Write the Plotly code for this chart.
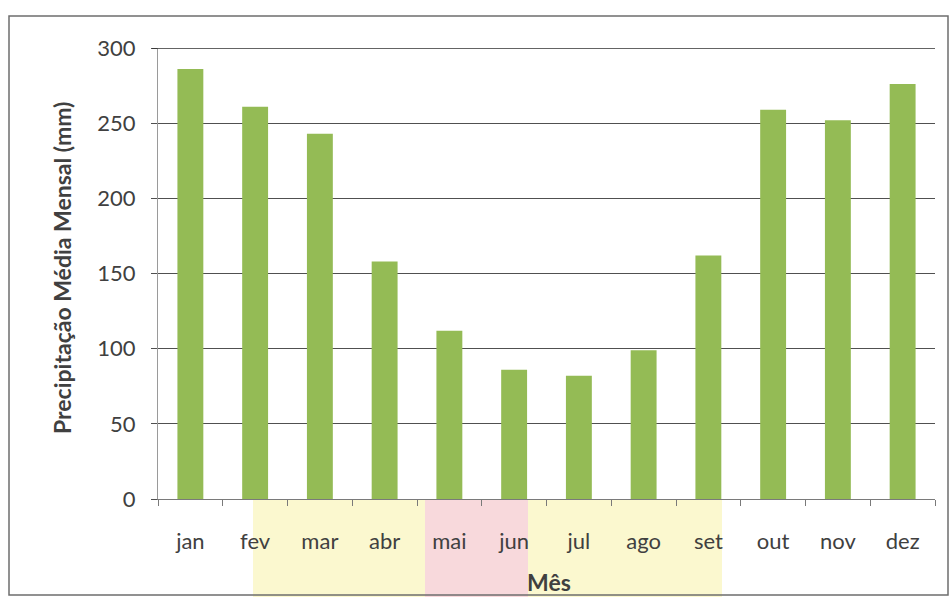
import plotly.graph_objects as go

meses = ["jan", "fev", "mar", "abr", "mai", "jun", "jul", "ago", "set", "out", "nov", "dez"]
precipitacao = [286, 261, 243, 158, 112, 86, 82, 99, 162, 259, 252, 276]
y_ticks = [0, 50, 100, 150, 200, 250, 300]

W, H = 952, 600
L, R, T, B = 158, 17, 48, 101
PW, PH = W - L - R, H - T - B

fig = go.Figure()
fig.add_trace(go.Bar(
    x=meses, y=precipitacao,
    marker=dict(color="#94bb55", line=dict(width=0)),
    width=0.4,
))

def fx(p):
    return (p - L) / PW

def fy(p):
    return 1 - (p - T) / PH

shapes = [
    # scan tint behind x labels
    dict(type="rect", xref="paper", yref="paper", layer="below",
         x0=fx(253), x1=fx(722), y0=fy(597), y1=fy(499),
         fillcolor="#fbf8cf", line=dict(width=0)),
    dict(type="rect", xref="paper", yref="paper", layer="below",
         x0=fx(425), x1=fx(528), y0=fy(597), y1=fy(499),
         fillcolor="#f8d9dc", line=dict(width=0)),
    # outer border
    dict(type="rect", xref="paper", yref="paper",
         x0=fx(9), x1=fx(948), y0=fy(595), y1=fy(16),
         line=dict(color="#6e6e6e", width=1.5), fillcolor="rgba(0,0,0,0)"),
    # top (300) line slightly heavier
    dict(type="line", xref="paper", yref="y",
         x0=fx(152), x1=1, y0=300, y1=300,
         line=dict(color="#303030", width=1.6)),
]

fig.update_layout(
    width=W, height=H,
    margin=dict(l=L, r=R, t=T, b=B, pad=0),
    paper_bgcolor="white", plot_bgcolor="rgba(0,0,0,0)",
    font=dict(family="Lato, Open Sans, sans-serif", size=22, color="#404040"),
    showlegend=False,
    bargap=0.6,
    shapes=shapes,
    xaxis=dict(
        type="category", categoryorder="array", categoryarray=meses,
        showgrid=False, showline=True, linecolor="#7a7a7a", linewidth=1,
        ticks="outside", tickson="boundaries", ticklen=6, tickcolor="#7a7a7a",
        ticklabelstandoff=23,
        tickfont=dict(size=22, color="#404040"),
    ),
    yaxis=dict(
        range=[0, 300], tickvals=y_ticks,
        showgrid=True, gridcolor="#505050", gridwidth=1,
        showline=True, linecolor="#9a9a9a", linewidth=1,
        ticks="outside", ticklen=6, tickcolor="#505050",
        ticklabelstandoff=11, zeroline=False,
        tickfont=dict(size=22, color="#404040"),
    ),
    annotations=[
        dict(text="<b>Precipitação Média Mensal (mm)</b>", xref="paper", yref="paper",
             x=fx(62), y=fy(268),
             textangle=-90, showarrow=False, xanchor="center", yanchor="middle",
             font=dict(size=23, color="#404040")),
        dict(text="<b>Mês</b>", xref="paper", yref="paper",
             x=fx(549), y=fy(582),
             showarrow=False, xanchor="center", yanchor="middle",
             font=dict(size=23, color="#404040")),
    ],
)

fig.write_html("out.html")
